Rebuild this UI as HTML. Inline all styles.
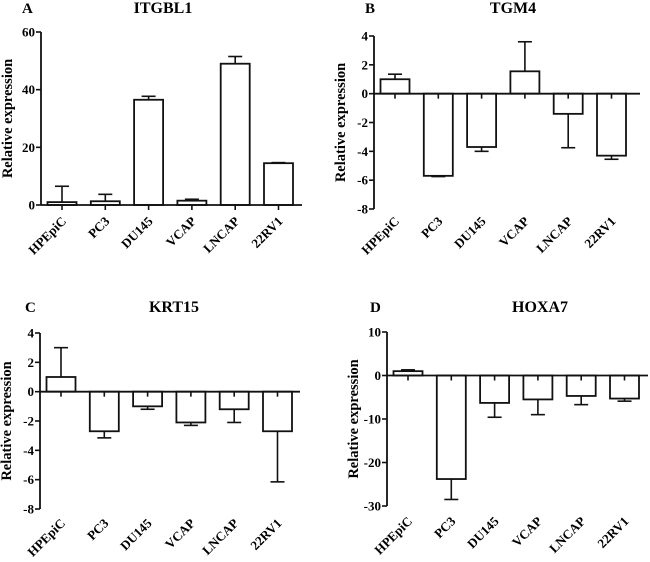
<!DOCTYPE html>
<html><head><meta charset="utf-8"><style>
html,body{margin:0;padding:0;background:#fff;}
svg{display:block;}
svg text{font-family:"Liberation Serif","Times New Roman",serif;font-weight:bold;}
</style></head>
<body>
<svg id="fig" width="650" height="562" viewBox="0 0 650 562"></svg>
<script>
const categories = ["HPEpiC","PC3","DU145","VCAP","LNCAP","22RV1"];
const itgbl1Values = [1, 1.3, 36.5, 1.5, 49, 14.5];
const itgbl1Errors = [6.5, 3.7, 37.7, 2, 51.5, 14.7];
const itgbl1Ticks = [0, 20, 40, 60];
const tgm4Values = [1, -5.7, -3.7, 1.55, -1.4, -4.3];
const tgm4Errors = [1.35, -5.75, -4.0, 3.6, -3.75, -4.55];
const tgm4Ticks = [-8, -6, -4, -2, 0, 2, 4];
const krt15Values = [1, -2.7, -1, -2.1, -1.2, -2.7];
const krt15Errors = [3, -3.15, -1.2, -2.3, -2.1, -6.15];
const krt15Ticks = [-8, -6, -4, -2, 0, 2, 4];
const hoxa7Values = [1, -23.8, -6.3, -5.5, -4.7, -5.3];
const hoxa7Errors = [1.3, -28.5, -9.6, -9, -6.7, -5.9];
const hoxa7Ticks = [-30, -20, -10, 0, 10];

const NS = "http://www.w3.org/2000/svg";
const svg = document.getElementById("fig");
const FF = '"Liberation Serif","Times New Roman",serif';
function mk(tag, attrs, parent){
  const e = document.createElementNS(NS, tag);
  for (const k in attrs) e.setAttribute(k, attrs[k]);
  if (tag === "text") { e.setAttribute("font-family", FF); e.setAttribute("font-weight", "bold"); }
  (parent||svg).appendChild(e);
  return e;
}
function panel(cfg){
  const g = mk("g", {});
  
  
  const y = v => cfg.yTop + (cfg.vMax - v) / (cfg.vMax - cfg.vMin) * (cfg.yBot - cfg.yTop);
  const x0 = cfg.ax + 21, step = 43.3, bw = 29;
  const letter = mk("text", {x: cfg.lx, y: cfg.ty, "font-size": 15}, g);
  letter.textContent = cfg.letter;
  
  
  const title = mk("text", {x: cfg.tx, y: cfg.ty, "font-size": 16, "text-anchor": "middle"}, g);
  title.textContent = cfg.title;
  
  
  const yl = mk("text", {x: 0, y: 0, "font-size": 14.5, "text-anchor": "middle",
    transform: `translate(${cfg.ax - 29},${(cfg.yTop + cfg.yBot) / 2}) rotate(-90)`}, g);
  yl.textContent = "Relative expression";
  
  
  const ya = mk("line", {x1: cfg.ax, x2: cfg.ax, y1: y(cfg.vMax), y2: y(cfg.vMin), stroke: "#111", "stroke-width": 1.8}, g);
  
  
  cfg.ticks.forEach(t => {
    mk("line", {x1: cfg.ax - 5, x2: cfg.ax, y1: y(t), y2: y(t), stroke: "#111", "stroke-width": 1.6}, g);
    const tl = mk("text", {x: cfg.ax - 6, y: y(t) + 4.5, "font-size": 13, "text-anchor": "end"}, g);
    tl.textContent = t;
    
    
  });
  cfg.values.forEach((v, i) => {
    const cx = x0 + i * step;
    const top = Math.min(y(v), y(0)), h = Math.abs(y(v) - y(0));
    const r = mk("rect", {x: cx - bw / 2, y: top, width: bw, height: h, fill: "#fff", stroke: "#111", "stroke-width": 1.8}, g);
    
    
    const e = cfg.errors[i];
    const eb = mk("g", {}, g);
    
    
    mk("line", {x1: cx, x2: cx, y1: y(v), y2: y(e), stroke: "#111", "stroke-width": 1.6}, eb);
    mk("line", {x1: cx - 7, x2: cx + 7, y1: y(e), y2: y(e), stroke: "#111", "stroke-width": 1.6}, eb);
    mk("line", {x1: cx, x2: cx, y1: y(0), y2: y(0) + 5, stroke: "#111", "stroke-width": 1.6}, g);
    const cl = mk("text", {x: 0, y: 0, "font-size": 13, "text-anchor": "end",
      transform: `translate(${cx + 5},${cfg.catY}) rotate(-45)`}, g);
    cl.textContent = categories[i];
    
    
  });
  const xa = mk("line", {x1: cfg.ax, x2: cfg.axEnd, y1: y(0), y2: y(0), stroke: "#111", "stroke-width": 1.8}, g);
  
  
}
panel({name:"panel-a-itgbl1", letter:"A", title:"ITGBL1", lx:22, tx:163, ty:13, ax:41, axEnd:302,
  yTop:32, yBot:205, vMax:60, vMin:0, ticks:itgbl1Ticks, values:itgbl1Values, errors:itgbl1Errors, catY:222});
panel({name:"panel-b-tgm4", letter:"B", title:"TGM4", lx:365, tx:513, ty:13, ax:374, axEnd:640,
  yTop:36, yBot:209, vMax:4, vMin:-8, ticks:tgm4Ticks, values:tgm4Values, errors:tgm4Errors, catY:222});
panel({name:"panel-c-krt15", letter:"C", title:"KRT15", lx:25, tx:174, ty:312, ax:40, axEnd:300,
  yTop:333, yBot:509, vMax:4, vMin:-8, ticks:krt15Ticks, values:krt15Values, errors:krt15Errors, catY:524});
panel({name:"panel-d-hoxa7", letter:"D", title:"HOXA7", lx:370, tx:540, ty:312, ax:387, axEnd:648,
  yTop:332, yBot:506, vMax:10, vMin:-30, ticks:hoxa7Ticks, values:hoxa7Values, errors:hoxa7Errors, catY:522});
</script>
</body></html>
